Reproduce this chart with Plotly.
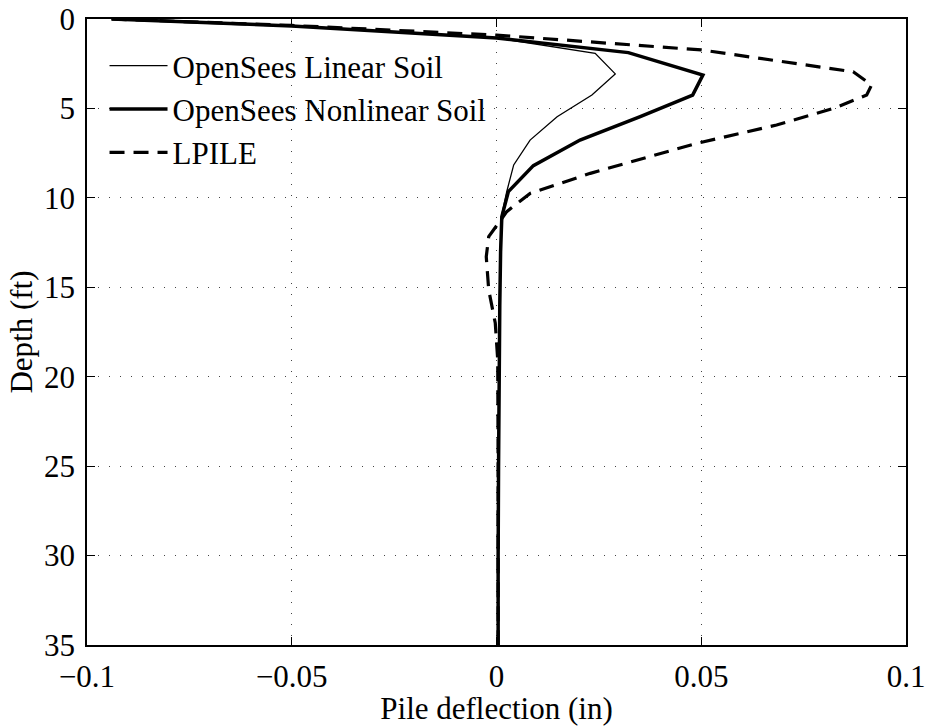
import plotly.graph_objects as go

# Depth (ft) and pile deflection (in)
lin_depth = [0.0, 0.39, 1.06, 1.92, 3.07, 4.25, 5.46, 6.77, 8.16, 9.65, 11.05, 13.0, 16.0, 20.0, 25.0, 30.0, 35.0]
lin_defl = [-0.094, -0.050, 0.000, 0.0241, 0.0290, 0.0233, 0.0148, 0.0082, 0.0042, 0.0025, 0.0012, 0.0009, 0.0007, 0.0005, 0.0004, 0.0003, 0.0003]

nl_depth = [0.0, 0.39, 1.06, 1.88, 3.13, 4.25, 5.46, 6.77, 8.20, 9.65, 11.05, 13.0, 16.0, 20.0, 25.0, 30.0, 35.0]
nl_defl = [-0.094, -0.050, 0.000, 0.0322, 0.0504, 0.0479, 0.0351, 0.0204, 0.0090, 0.0029, 0.0013, 0.0010, 0.0008, 0.0006, 0.0005, 0.0004, 0.0004]

lp_depth = [0.0, 0.36, 0.90, 1.73, 2.95, 3.69, 4.25, 5.00, 5.93, 6.95, 8.63, 9.75, 10.77, 12.17, 13.29, 15.15, 17.0, 19.06, 25.0, 30.0, 35.0]
lp_defl = [-0.094, -0.050, 0.000, 0.050, 0.0871, 0.0916, 0.0904, 0.0823, 0.0684, 0.0489, 0.0229, 0.0082, 0.0025, -0.0019, -0.0025, -0.0019, -0.0003, 0.0003, 0.0004, 0.0004, 0.0004]

x_ticks = [-0.1, -0.05, 0, 0.05, 0.1]
x_labels = ["\u22120.1", "\u22120.05", "0", "0.05", "0.1"]
y_ticks = [0, 5, 10, 15, 20, 25, 30, 35]
y_labels = ["0", "5", "10", "15", "20", "25", "30", "35"]

FONT = "Liberation Serif"

fig = go.Figure()
fig.add_trace(go.Scatter(x=lin_defl, y=lin_depth, mode="lines", name="OpenSees Linear Soil",
                         line=dict(color="black", width=1.3)))
fig.add_trace(go.Scatter(x=nl_defl, y=nl_depth, mode="lines", name="OpenSees Nonlinear Soil",
                         line=dict(color="black", width=3.5)))
fig.add_trace(go.Scatter(x=lp_defl, y=lp_depth, mode="lines", name="LPILE",
                         line=dict(color="black", width=3.2, dash="15px,9px")))

axis_common = dict(
    showline=True, linecolor="black", linewidth=1.5, mirror="ticks",
    ticks="inside", ticklen=8, tickwidth=1, tickcolor="black",
    showgrid=True, gridcolor="#444444", gridwidth=1, griddash="1px,10px",
    zeroline=False, automargin=False,
    tickfont=dict(family=FONT, size=31, color="black"),
)

fig.update_xaxes(range=[-0.1, 0.1], tickvals=x_ticks, ticktext=x_labels,
                 title=dict(text="Pile deflection (in)", font=dict(family=FONT, size=31, color="black"), standoff=2),
                 ticklabelstandoff=3,
                 **axis_common)
fig.update_yaxes(range=[35, 0], tickvals=y_ticks, ticktext=y_labels,
                 title=dict(text="Depth (ft)", font=dict(family=FONT, size=31, color="black"), standoff=2),
                 ticklabelstandoff=4,
                 **axis_common)

fig.update_layout(
    width=929, height=726,
    margin=dict(l=87, r=23, t=19, b=81, autoexpand=False),
    paper_bgcolor="white", plot_bgcolor="white",
    font=dict(family=FONT, color="black"),
    showlegend=True,
    legend=dict(x=0.0214, y=0.968, xanchor="left", yanchor="top",
                bgcolor="rgba(0,0,0,0)", borderwidth=0,
                font=dict(family=FONT, size=31, color="black"),
                itemwidth=58, tracegroupgap=0),
)

fig.write_html("out.html")
